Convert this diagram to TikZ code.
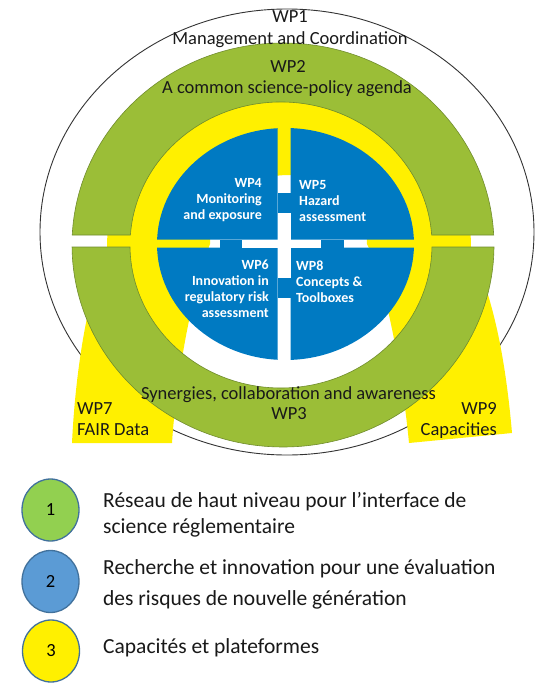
\documentclass[tikz,border=0pt]{standalone}
\usepackage{fontspec}
\setmainfont{Carlito}
\usetikzlibrary{shapes.geometric}
\definecolor{ringgreen}{RGB}{155,190,55}
\definecolor{ringedge}{RGB}{112,140,45}
\definecolor{yel}{RGB}{255,240,0}
\definecolor{coreblue}{RGB}{0,122,194}
\definecolor{lgreen}{RGB}{146,208,80}
\definecolor{lblue}{RGB}{91,155,213}
\definecolor{ledge}{RGB}{65,113,156}
\begin{document}
\begin{tikzpicture}[x=1pt,y=-1pt,
  ringlabel/.style={font=\fontsize{18.5}{22}\selectfont, inner sep=0pt, text=black!90},
  bluelabel/.style={font=\fontsize{14}{16}\selectfont\bfseries, inner sep=0pt, text=white},
  legtext/.style={font=\fontsize{21.5}{28}\selectfont, inner sep=0pt, anchor=mid west, text=black!90},
  legcirc/.style={ellipse, draw=ledge, line width=1.3pt, minimum width=57pt, minimum height=62pt, inner sep=0pt, font=\fontsize{18.5}{22}\selectfont},
  greenpart/.style={fill=ringgreen, draw=ringedge, line width=0.6pt}]
\useasboundingbox (0,0) rectangle (549,683);
\fill[white] (0,0) rectangle (549,683);

% WP1 outer ellipse
\draw[line width=0.9pt, black!80] (287,232) ellipse[x radius=247, y radius=223];

% yellow arch (capacities)
\fill[yel] (107,247) arc[start angle=180, end angle=360, x radius=182, y radius=170]
  .. controls (486,285) and (503,330) .. (512,433) -- (409,443)
  .. controls (402,370) and (385,280) .. (367,244)
  arc[start angle=0, end angle=-180, x radius=78.5, y radius=69]
  .. controls (192,290) and (176,380) .. (172,443) -- (72,443)
  .. controls (76,360) and (90,290) .. (107,247) -- cycle;

% green ring, upper half (WP2)
\path[greenpart] (493.7,235) arc[start angle=-2.84, end angle=-177.16, x radius=211, y radius=202]
  -- (130.4,235) arc[start angle=-176, end angle=-4, x radius=151, y radius=143] -- cycle;
% green ring, lower half (WP3)
\path[greenpart] (494,247) arc[start angle=0.567, end angle=179.433, x radius=211, y radius=202]
  -- (130,247) arc[start angle=179.2, end angle=0.8, x radius=151, y radius=143] -- cycle;

% blue core, four quarters
\begin{scope}
  \clip (100,100) rectangle (277.5,239.5) (290.5,100) rectangle (450,239.5)
        (100,247.5) rectangle (277.5,400) (290.5,247.5) rectangle (450,400);
  \fill[coreblue] (285.5,244) ellipse[x radius=128.5, y radius=116];
\end{scope}
% blue plus and white cross
\fill[coreblue] (220,239.5) rectangle (344,247.5);
\fill[coreblue] (277.5,193) rectangle (290.5,298);
\fill[white] (242,239.5) rectangle (321,247.5);
\fill[white] (277.5,213) rectangle (290.5,278);

% ring labels
\node[ringlabel, anchor=mid] (wp1) at (290,20) {WP1};
\node[ringlabel, anchor=mid] (mgmt) at (290,42) {Management and Coordination};
\node[ringlabel, anchor=mid] (wp2) at (288,70) {WP2};
\node[ringlabel, anchor=mid] (agenda) at (287,91) {A common science-policy agenda};
\node[ringlabel, anchor=mid] (syn) at (288.5,397) {Synergies, collaboration and awareness};
\node[ringlabel, anchor=mid] (wp3) at (289,417) {WP3};
\node[ringlabel, anchor=mid west] (wp7) at (77,412) {WP7};
\node[ringlabel, anchor=mid west] (fair) at (77,433) {FAIR Data};
\node[ringlabel, anchor=mid east] (wp9) at (497,412) {WP9};
\node[ringlabel, anchor=mid east] (cap) at (497,433) {Capacities};

% blue labels
\node[bluelabel, align=right, anchor=north east] (wp4) at (262,178.5) {WP4\\Monitoring\\and exposure};
\node[bluelabel, align=left, anchor=north west] (wp5) at (299,180.5) {WP5\\Hazard\\assessment};
\node[bluelabel, align=right, anchor=north east] (wp6) at (269,259.5) {WP6\\Innovation in\\regulatory risk\\assessment};
\node[bluelabel, align=left, anchor=north west] (wp8) at (296,260.5) {WP8\\Concepts \&\\Toolboxes};

% legend
\node[legcirc, fill=lgreen] (c1) at (50.5,510) {1};
\node[legcirc, fill=lblue] (c2) at (50.5,581.5) {2};
\node[legcirc, fill=yel] (c3) at (51,651) {3};
\node[legtext] (l1a) at (103,505) {Réseau de haut niveau pour l’interface de};
\node[legtext] (l1b) at (103,531.5) {science réglementaire};
\node[legtext] (l2a) at (103,572) {Recherche et innovation pour une évaluation};
\node[legtext] (l2b) at (103,603) {des risques de nouvelle génération};
\node[legtext] (l3) at (103,651) {Capacités et plateformes};
\end{tikzpicture}
\end{document}
